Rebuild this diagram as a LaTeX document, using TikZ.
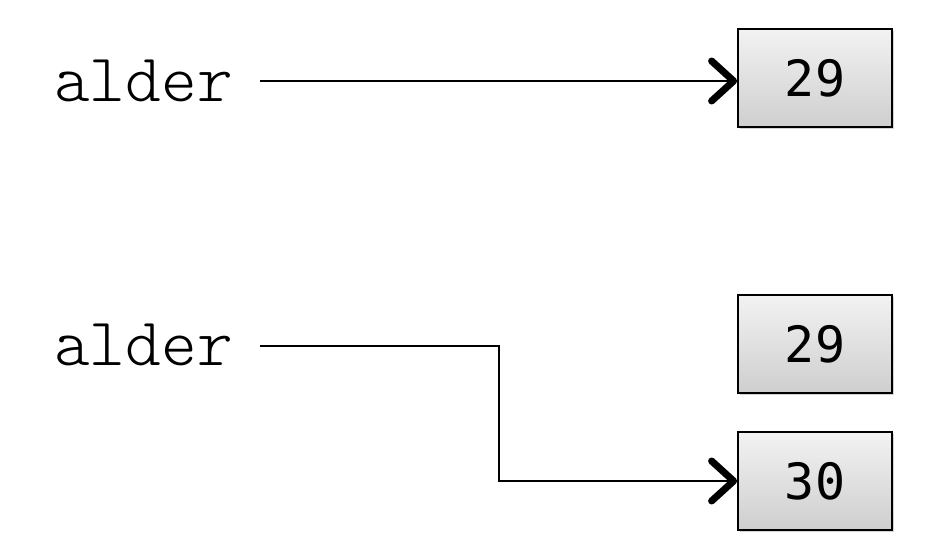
\documentclass[tikz,border=0pt]{standalone}
\usepackage{fontspec}
\newfontfamily\varfont{Latin Modern Mono Light}
\newfontfamily\numfont{DejaVu Sans Mono}
\usetikzlibrary{arrows.meta,shadows}
\begin{document}
\begin{tikzpicture}[x=1pt,y=-1pt,
  >={Straight Barb[length=22pt,width=40pt,line width=7pt,round]},
  varname/.style={anchor=base west,inner sep=0pt,font=\varfont\fontsize{68}{68}\selectfont},
  valbox/.style={draw=black,line width=1.8pt,minimum width=154pt,minimum height=98pt,
    inner sep=0pt,top color=gray!10,bottom color=gray!38,
    drop shadow={opacity=0.35,shadow xshift=1.5pt,shadow yshift=-2pt},
    font=\numfont\fontsize{50}{50}\selectfont},
  ref/.style={line width=1.6pt,->}]
  \useasboundingbox (0,0) rectangle (934,556);
  % first state: alder refers to 29
  \node[varname] (a1) at (54,102) {alder};
  \node[valbox] (v1) at (815,78) {29};
  \coordinate (s1) at (260,81);
  \draw[ref] (s1) -- (s1 -| v1.west);
  % second state: alder now refers to a new object 30
  \node[varname] (a2) at (54,365) {alder};
  \node[valbox] (v2) at (815,344) {29};
  \node[valbox] (v3) at (815,481) {30};
  \coordinate (s2) at (260,346);
  \draw[ref] (s2) -- (499,346) |- (v3.west);
\end{tikzpicture}
\end{document}
